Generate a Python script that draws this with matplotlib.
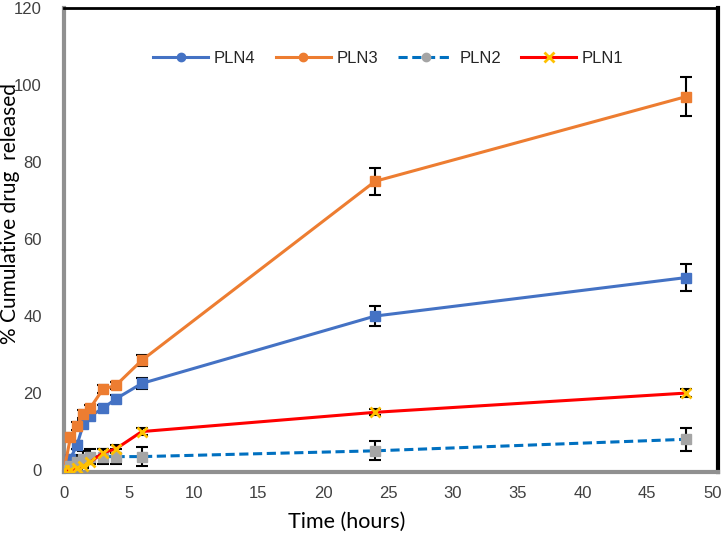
import numpy as np
import matplotlib.pyplot as plt
from matplotlib.lines import Line2D

# sampling times (hours)
time_h = [0, 0.5, 1, 1.5, 2, 3, 4, 6, 24, 48]

pln4 = [0, 3, 6.5, 12, 14, 16, 18.5, 22.5, 40, 50]
pln4_err = [1.0, 1.0, 1.0, 1.0, 1.0, 1.0, 1.0, 1.5, 2.5, 3.5]

pln3 = [0, 8.5, 11.5, 14.5, 16, 21, 22, 28.5, 75, 97]
pln3_err = [1.0, 1.0, 1.0, 1.0, 1.0, 1.0, 1.0, 1.5, 3.5, 5.0]

pln2 = [0, 1.0, 2.0, 3.0, 3.5, 3.5, 3.5, 3.5, 5.0, 8.0]
pln2_err = [1.0, 1.5, 2.0, 2.0, 2.0, 2.0, 2.0, 2.5, 2.5, 3.0]

pln1 = [0, 0, 0.5, 1.0, 2.0, 4.5, 5.5, 10, 15, 20]
pln1_err = [0.5, 0.5, 0.5, 0.5, 0.5, 1.0, 1.0, 0.8, 0.8, 1.0]

c_blue = "#4472C4"
c_orange = "#ED7D31"
c_dash = "#0070C0"
c_gray = "#A5A5A5"
c_red = "#FF0000"
c_yellow = "#FFC000"

fig = plt.figure(figsize=(7.26, 5.39), dpi=100)
ax = fig.add_axes([64 / 726, 1 - 472 / 539, 654 / 726, 464 / 539])

eb = dict(ecolor="black", elinewidth=1.5, capsize=4, capthick=1.5, zorder=2)

ax.errorbar(time_h, pln4, yerr=pln4_err, fmt="none", **eb)
ax.errorbar(time_h, pln3, yerr=pln3_err, fmt="none", **eb)
ax.errorbar(time_h, pln2, yerr=pln2_err, fmt="none", **eb)
ax.errorbar(time_h, pln1, yerr=pln1_err, fmt="none", **eb)

ax.plot(time_h, pln4, color=c_blue, lw=2.2, marker="s", ms=7, mfc=c_blue, mec=c_blue, zorder=3)
ax.plot(time_h, pln3, color=c_orange, lw=2.2, marker="s", ms=7, mfc=c_orange, mec=c_orange, zorder=3)
ax.plot(time_h, pln2, color=c_dash, lw=2.2, ls=(0, (3, 1.5)), marker="s", ms=7,
        mfc=c_gray, mec=c_gray, zorder=3)
ax.plot(time_h, pln1, color=c_red, lw=2.2, marker="x", ms=7, mew=2, mec=c_yellow, zorder=3)

handles = [
    Line2D([], [], color=c_blue, lw=2.2, marker="o", ms=6),
    Line2D([], [], color=c_orange, lw=2.2, marker="o", ms=6),
    Line2D([], [], color=c_dash, lw=2.2, ls=(0, (3, 1.5)), marker="o", ms=6, mfc=c_gray, mec=c_gray),
    Line2D([], [], color=c_red, lw=2.2, marker="x", ms=7, mew=2, mec=c_yellow),
]
ax.legend(handles, ["PLN4", "PLN3", "PLN2", "PLN1"], ncol=4, frameon=False,
          loc="center", bbox_to_anchor=(0.496, 0.892), handlelength=3.3,
          columnspacing=1.2, handletextpad=0.36,
          prop={"family": "Liberation Sans", "size": 12})
for t in ax.get_legend().get_texts():
    t.set_color("#262626")

ax.set_xlim(0, 50.45)
ax.set_ylim(-0.5, 120)
ax.set_xticks(range(0, 51, 5))
ax.set_yticks(range(0, 121, 20))
ax.tick_params(length=0, labelsize=12, labelcolor="#404040")
ax.tick_params(axis="y", pad=16)
ax.tick_params(axis="x", pad=10)
for lab in ax.get_xticklabels() + ax.get_yticklabels():
    lab.set_family("Liberation Sans")

ax.spines["left"].set_color("#909090")
ax.spines["left"].set_linewidth(3)
ax.spines["bottom"].set_color("#909090")
ax.spines["bottom"].set_linewidth(3)
ax.spines["top"].set_color("black")
ax.spines["top"].set_linewidth(2)
ax.spines["right"].set_color("black")
ax.spines["right"].set_linewidth(3)

fig.text(347 / 726, 1 - 522 / 539, "Time (hours)", fontsize=15.5, family="Lato",
         ha="center", va="center")
fig.text(10 / 726, 1 - 214 / 539, "% Cumulative drug  released", fontsize=15,
         family="Lato", rotation=90, ha="center", va="center")

fig.savefig("out.png", dpi=100)
